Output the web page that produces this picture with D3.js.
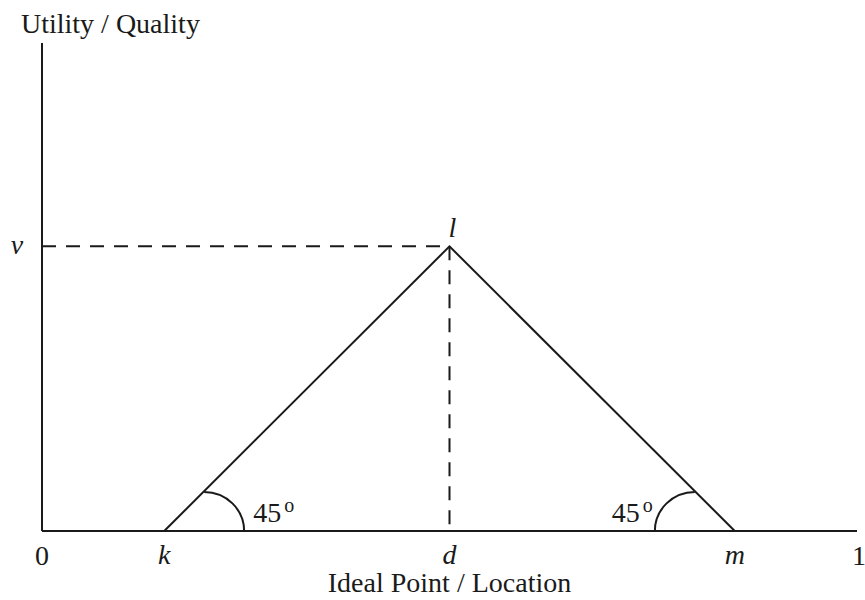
<!DOCTYPE html>
<html>
<head>
<meta charset="utf-8">
<script src="https://cdn.jsdelivr.net/npm/d3@7"></script>
<style>
  html, body { margin: 0; padding: 0; background: #fff; }
  svg { display: block; }
  text { font-family: "Liberation Serif", "Times New Roman", serif; fill: #1a1a1a; }
</style>
</head>
<body>
<svg id="chart" width="865" height="600"></svg>
<script>
// Locations on the unit interval and the quality of the ideal point
const pointNames = ["k", "d", "m"];
const pointValues = [0.15, 0.5, 0.85];
const endNames = ["0", "1"];
const endValues = [0, 1];
const peakName = "l";
const qualityName = "v";
const qualityValue = 0.35;
const angleLabel = "45";
const xTitle = "Ideal Point / Location";
const yTitle = "Utility / Quality";

const svg = d3.select("#chart");
const ink = "#1a1a1a";
const fs = 28;

const x = d3.scaleLinear().domain([0, 1]).range([42, 857]);
const y = d3.scaleLinear().domain([0, 0.6]).range([531, 43]);

const kVal = pointValues[0], dVal = pointValues[1], mVal = pointValues[2];

// Axes (plain lines, no ticks)
svg.append("line")
  .attr("x1", x(0)).attr("y1", y(0)).attr("x2", x(1)).attr("y2", y(0))
  .attr("stroke", ink).attr("stroke-width", 2);
svg.append("line")
  .attr("x1", x(0)).attr("y1", y(0)).attr("x2", x(0)).attr("y2", y(0.6))
  .attr("stroke", ink).attr("stroke-width", 2);

// Dashed guides to the peak
svg.append("line")
  .attr("x1", x(0)).attr("y1", y(qualityValue)).attr("x2", x(dVal)).attr("y2", y(qualityValue))
  .attr("stroke", ink).attr("stroke-width", 2).attr("stroke-dasharray", "14,10");
svg.append("line")
  .attr("x1", x(dVal)).attr("y1", y(qualityValue)).attr("x2", x(dVal)).attr("y2", y(0))
  .attr("stroke", ink).attr("stroke-width", 2).attr("stroke-dasharray", "14,10");

// Triangular utility profile k -> l -> m
const tri = [[kVal, 0], [dVal, qualityValue], [mVal, 0]];
svg.append("path")
  .attr("d", d3.line().x(p => x(p[0])).y(p => y(p[1]))(tri))
  .attr("fill", "none").attr("stroke", ink).attr("stroke-width", 2)
  .attr("stroke-linejoin", "miter");

// Angle arcs at k and m
function angleArc(base, dir) {
  const p1 = [x(base + dir * 0.049), y(0.048)];
  const p2 = [x(base + dir * 0.098), y(0)];
  const rx = Math.abs(p2[0] - p1[0]), ry = Math.abs(p2[1] - p1[1]);
  const sweep = dir > 0 ? 1 : 0;
  return `M${p1[0]},${p1[1]} A${rx},${ry} 0 0 ${sweep} ${p2[0]},${p2[1]}`;
}
svg.append("path").attr("d", angleArc(kVal, 1))
  .attr("fill", "none").attr("stroke", ink).attr("stroke-width", 2);
svg.append("path").attr("d", angleArc(mVal, -1))
  .attr("fill", "none").attr("stroke", ink).attr("stroke-width", 2);

function angleText(px, py) {
  const t = svg.append("text").attr("x", px).attr("y", py).attr("font-size", fs);
  t.append("tspan").text(angleLabel);
  t.append("tspan").attr("dx", 3).attr("dy", -10).attr("font-size", 20).text("o");
}
angleText(x(kVal) + 89, 522);
angleText(x(mVal) - 123, 522);

// Labels along the horizontal axis
endNames.forEach((n, i) => {
  svg.append("text").attr("x", x(endValues[i]) + (i === 1 ? 2 : 0)).attr("y", 565)
    .attr("text-anchor", "middle").attr("font-size", fs).text(n);
});
pointNames.forEach((n, i) => {
  svg.append("text").attr("x", x(pointValues[i])).attr("y", 564)
    .attr("text-anchor", "middle").attr("font-size", fs).attr("font-style", "italic").text(n);
});

// Peak and quality labels
svg.append("text").attr("x", x(dVal) + 3).attr("y", y(qualityValue) - 9)
  .attr("text-anchor", "middle").attr("font-size", fs).attr("font-style", "italic").text(peakName);
svg.append("text").attr("x", 17).attr("y", y(qualityValue) + 8)
  .attr("text-anchor", "middle").attr("font-size", fs).attr("font-style", "italic").text(qualityName);

// Axis titles
svg.append("text").attr("x", 21).attr("y", 33).attr("font-size", fs).text(yTitle);
svg.append("text").attr("x", x(dVal)).attr("y", 592)
  .attr("text-anchor", "middle").attr("font-size", fs).text(xTitle);
</script>
</body>
</html>
